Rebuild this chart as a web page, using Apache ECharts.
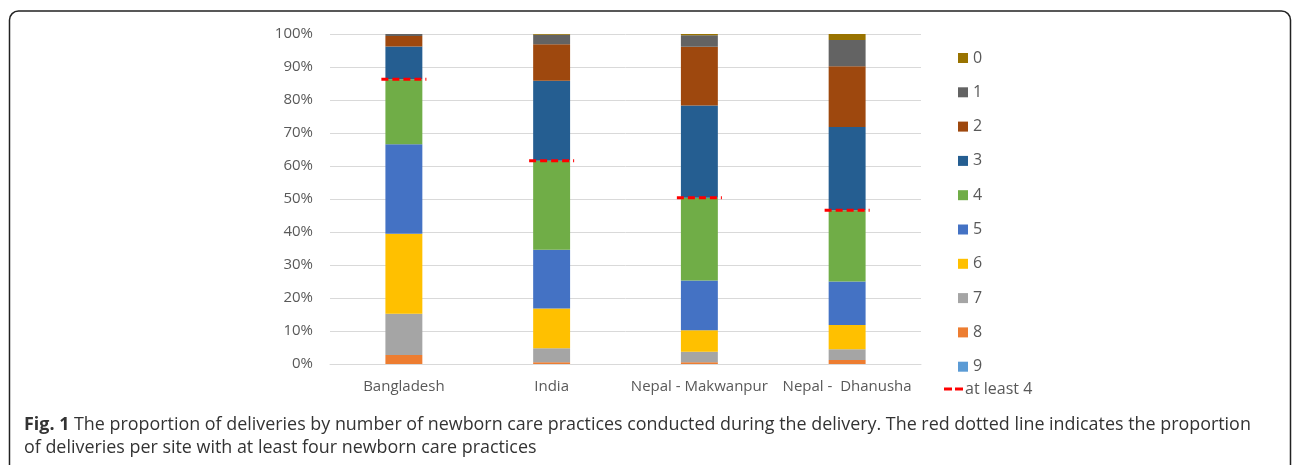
<!DOCTYPE html>
<html>
<head>
<meta charset="utf-8">
<script src="https://cdn.jsdelivr.net/npm/echarts@6/dist/echarts.min.js"></script>
<style>
html,body{margin:0;padding:0;background:#fff;}
#chart{width:1293px;height:465px;}
</style>
</head>
<body>
<div id="chart"></div>
<script>
const categories = ['Bangladesh', 'India', 'Nepal - Makwanpur', 'Nepal -  Dhanusha'];
const practices = ['0', '1', '2', '3', '4', '5', '6', '7', '8', '9'];
// percentages per number of practices, per site
const p0 = [0, 0.2, 0.4, 1.8];
const p1 = [0.6, 2.9, 3.5, 8.0];
const p2 = [3.2, 11.1, 17.8, 18.4];
const p3 = [9.9, 24.2, 27.9, 25.2];
const p4 = [19.7, 27.0, 25.1, 21.6];
const p5 = [27.1, 17.8, 15.1, 13.2];
const p6 = [24.3, 12.0, 6.5, 7.3];
const p7 = [12.5, 4.3, 3.2, 3.3];
const p8 = [2.7, 0.5, 0.5, 1.2];
const p9 = [0, 0, 0, 0];
const atLeast4 = [86.3, 61.6, 50.4, 46.6];
const yTicks = [0, 10, 20, 30, 40, 50, 60, 70, 80, 90, 100];

const values = {'0': p0, '1': p1, '2': p2, '3': p3, '4': p4, '5': p5, '6': p6, '7': p7, '8': p8, '9': p9};
const colors = {'0': '#997300', '1': '#636363', '2': '#9E480E', '3': '#255E91', '4': '#70AD47',
  '5': '#4472C4', '6': '#FFC000', '7': '#A5A5A5', '8': '#ED7D31', '9': '#5B9BD5'};

const font = 'Open Sans';
const txt = '#595959';

const barSeries = practices.slice().reverse().map(k => ({
  name: k, type: 'bar', stack: 'total', barWidth: '25%',
  itemStyle: {color: colors[k]},
  data: values[k]
}));

const lineSeries = {
  name: 'at least 4', type: 'custom', z: 10,
  itemStyle: {color: '#FF0000'},
  data: categories.map((c, i) => [c, atLeast4[i]]),
  renderItem: function (params, api) {
    const p = api.coord([api.value(0), api.value(1)]);
    const half = 22.5;
    return {
      type: 'line',
      shape: {x1: p[0] - half, y1: p[1], x2: p[0] + half, y2: p[1]},
      style: {stroke: '#FF0000', lineWidth: 3, lineDash: [7, 4], fill: null}
    };
  }
};

const chart = echarts.init(document.getElementById('chart'), null, {renderer: 'canvas'});
chart.setOption({
  animation: false,
  backgroundColor: '#fff',
  textStyle: {fontFamily: font},
  grid: {left: 330, top: 34, width: 591, height: 330, containLabel: false},
  xAxis: {
    type: 'category', data: categories,
    axisLine: {show: true, lineStyle: {color: '#d9d9d9', width: 1}},
    axisTick: {show: false},
    axisLabel: {color: txt, fontSize: 15, fontFamily: font, margin: 15, interval: 0}
  },
  yAxis: {
    type: 'value', min: yTicks[0], max: yTicks[yTicks.length - 1], interval: 10,
    axisLine: {show: false}, axisTick: {show: false},
    splitLine: {lineStyle: {color: '#d9d9d9', width: 1}},
    axisLabel: {color: txt, fontSize: 15, fontFamily: font, margin: 17, formatter: '{value}%'}
  },
  legend: [
    {
      orient: 'vertical', left: 953, top: 45,
      itemWidth: 10, itemHeight: 10, itemGap: 18.3,
      icon: 'rect',
      textStyle: {color: txt, fontSize: 16, fontFamily: font, lineHeight: 15},
      data: practices
    },
    {
      orient: 'vertical', left: 939, top: 376,
      itemWidth: 19, itemHeight: 3, itemGap: 5,
      textStyle: {color: txt, fontSize: 16, fontFamily: font, lineHeight: 15, padding: [0, 0, 0, -3]},
      data: [{name: 'at least 4', icon: 'path://M0,0H8V3H0Z M11,0H19V3H11Z'}]
    }
  ],
  series: barSeries.concat([lineSeries]),
  graphic: [
    {
      type: 'rect', silent: true,
      shape: {x: 9.5, y: 11, width: 1281, height: 480, r: 9},
      style: {fill: null, stroke: '#222', lineWidth: 1.5}
    },
    {
      type: 'text', left: 24, top: 416, silent: true,
      style: {
        text: '{b|Fig. 1} The proportion of deliveries by number of newborn care practices conducted during the delivery. The red dotted line indicates the proportion',
        fontFamily: font, fontSize: 17.9, fill: '#333',
        rich: {b: {fontWeight: 'bold', fontFamily: font, fontSize: 17.9, fill: '#333'}}
      }
    },
    {
      type: 'text', left: 24, top: 439, silent: true,
      style: {
        text: 'of deliveries per site with at least four newborn care practices',
        fontFamily: font, fontSize: 17.9, fill: '#333'
      }
    }
  ]
});
</script>
</body>
</html>
